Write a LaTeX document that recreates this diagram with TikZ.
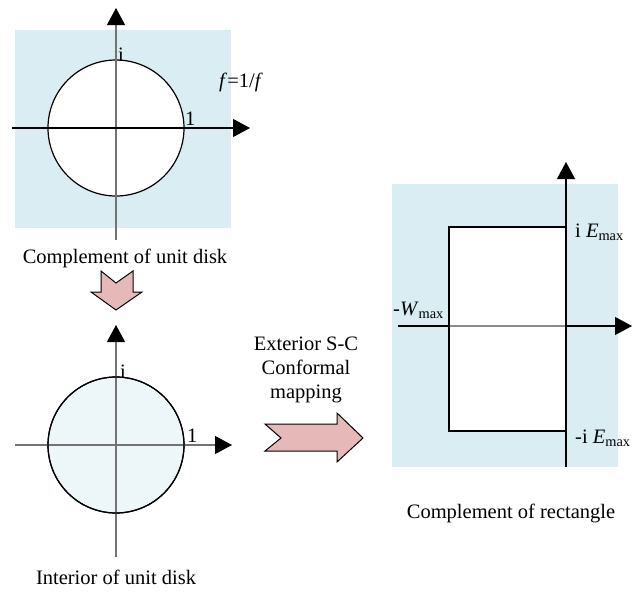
\documentclass[tikz,border=0pt]{standalone}
\usepackage{fontspec}
\setmainfont{Liberation Serif}
\usepackage{tikz}
\usetikzlibrary{arrows.meta}
\usepackage{xcolor}
\definecolor{planeblue}{HTML}{DAEDF3}
\definecolor{diskblue}{HTML}{EDF6F9}
\definecolor{arrowpink}{HTML}{E6B9B8}

\begin{document}
\begin{tikzpicture}[x=1pt,y=-1pt,
	axis/.style={line width=1.1pt, -{Triangle[length=17pt,width=18pt,color=black]}},
	blockarrow/.style={fill=arrowpink, draw=black, line width=1pt, line join=miter},
	lbl/.style={inner sep=0pt, font=\fontsize{20.5}{24}\selectfont},
	caption/.style={inner sep=0pt, font=\fontsize{20.5}{24}\selectfont, align=center}]
	\useasboundingbox (0,0) rectangle (638,592);
	% top: complement of unit disk
	\fill[planeblue] (15,30) rectangle (231,228);
	\draw[line width=1.2pt, fill=white] (116,128) circle (68);
	\draw[axis, black!55] (116,240) -- (116,8);
	\draw[axis] (12,128) -- (250,128);
	\node[lbl, anchor=south west] (itop) at (118,62) {i};
	\node[lbl, anchor=south west] (onetop) at (185,126) {1};
	\node[lbl, anchor=west] (finv) at (219,82) {\textit{f}=1/\textit{f}};
	\node[caption] (captop) at (125,258) {Complement of unit disk};
	% down arrow
	\draw[blockarrow] (101,271) -- (116,283) -- (133,271) -- (133,292) -- (142,292)
		-- (116,310) -- (91,292) -- (101,292) -- cycle;
	% bottom: interior of unit disk
	\draw[line width=1.2pt, fill=diskblue] (116,445) circle (68);
	\draw[axis, black!55] (116,557) -- (116,325);
	\draw[axis, black!55] (15,445) -- (232,445);
	\draw[line width=1.2pt] (116,445) circle (68);
	\node[lbl, anchor=south west] (ibot) at (120,379) {i};
	\node[lbl, anchor=south west] (onebot) at (187,443) {1};
	\node[caption] (capbot) at (116,577) {Interior of unit disk};
	% mapping arrow
	\node[caption] (maptext) at (306,370) {Exterior S-C\\Conformal\\mapping};
	\draw[blockarrow] (265,424) -- (281,438) -- (265,451) -- (337,451) -- (337,462)
		-- (363,438) -- (337,413) -- (337,424) -- cycle;
	% right: complement of rectangle
	\fill[planeblue] (392,184) rectangle (618,467);
	\fill[white] (449,227) rectangle (566,431);
	\draw[axis] (398,326) -- (632,326);
	\draw[line width=1.1pt, black!45] (449,326) -- (566,326);
	\draw[axis] (566,467) -- (566,162);
	\draw[line width=1.2pt] (566,227) -- (449,227) -- (449,431) -- (566,431);
	\node[lbl, anchor=west] (emax) at (575,232) {i \textit{E}\textsubscript{max}};
	\node[lbl, anchor=west] (emin) at (575,438) {-i \textit{E}\textsubscript{max}};
	\node[lbl, anchor=west] (wmax) at (393,310) {-\textit{W}\textsubscript{max}};
	\node[caption] (capright) at (511,513) {Complement of rectangle};
\end{tikzpicture}
\end{document}
